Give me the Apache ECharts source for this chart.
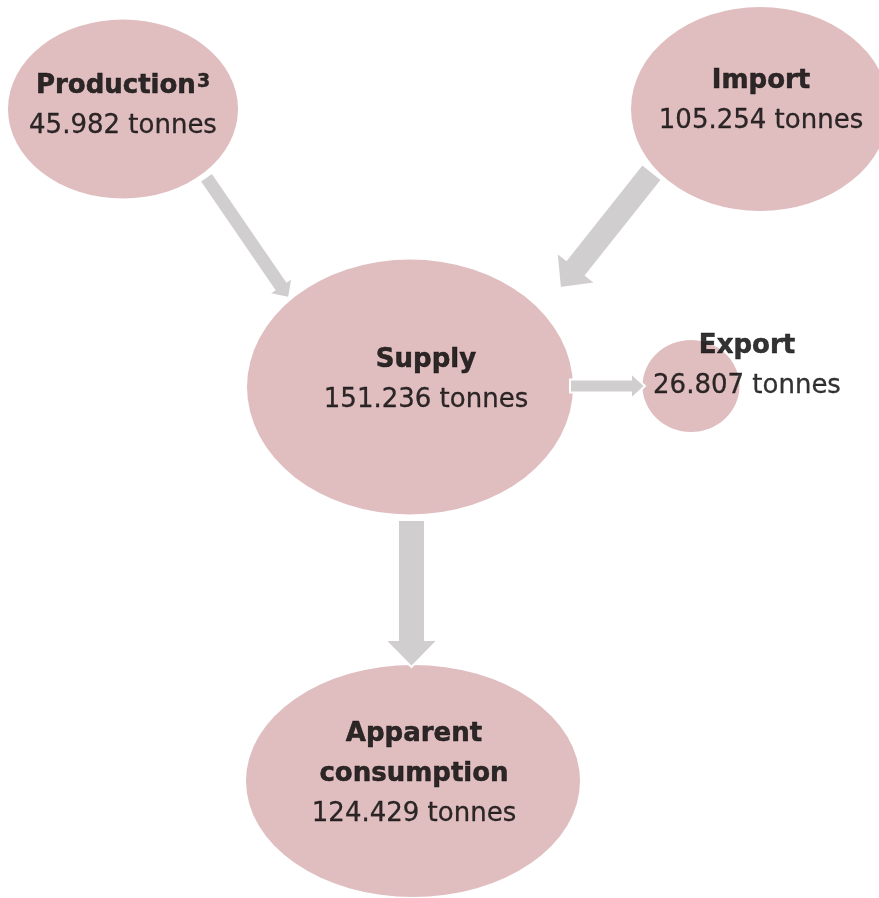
<!DOCTYPE html>
<html>
<head>
<meta charset="utf-8">
<script src="https://cdn.jsdelivr.net/npm/echarts@6/dist/echarts.min.js"></script>
<style>
  html, body { margin: 0; padding: 0; background: #ffffff; }
  #chart { width: 879px; height: 898px; }
</style>
</head>
<body>
<div id="chart"></div>
<script>
// ---- data ----
const nodeNames  = ['Production', 'Import', 'Supply', 'Export', 'Apparent consumption'];
const nodeNotes  = ['3', '', '', '', ''];   // footnote markers (superscript)
const nodeValues = [45982, 105254, 151236, 26807, 124429];
const flowFrom   = ['Production', 'Import', 'Supply', 'Supply'];
const flowTo     = ['Supply', 'Supply', 'Export', 'Apparent consumption'];
const flowValues = [45982, 105254, 26807, 124429];
const unitLabel  = 'tonnes';

// ---- layout (diagram placement, in canvas units) ----
const nodeCenter = [[123, 109], [760, 109], [410, 387], [691, 386], [413, 781]];
const nodeSize   = [[230, 179], [258, 204], [326, 255], [97, 92], [334, 232]];
const labelAt    = [[123, 106], [761, 101], [426, 380], [747, 366], [414, 774]];
const titleLines = [['Production'], ['Import'], ['Supply'], ['Export'], ['Apparent', 'consumption']];
// arrow: start point (back of shaft), tip point, shaft width, head width, head length
const arrowStart = [[206, 177], [652, 172], [570, 386], [411.5, 520]];
const arrowTip   = [[289, 298], [560, 288], [645, 386], [411.5, 667]];
const arrowShaft = [15, 25, 13, 27];
const arrowHead  = [29, 50, 26, 53];
const arrowHeadLen = [15, 26, 14, 27];

function fmt(v) {
  return String(v).replace(/\B(?=(\d{3})+(?!\d))/g, '.');
}

const nodeData = nodeNames.map((n, i) => ({
  name: n,
  value: [nodeCenter[i][0], nodeCenter[i][1], nodeValues[i]],
  symbolSize: nodeSize[i]
}));

const labelData = nodeNames.map((n, i) => {
  const lines = titleLines[i].map((t, k) => {
    let s = '{b|' + t + '}';
    if (k === titleLines[i].length - 1 && nodeNotes[i]) s += '{s|' + nodeNotes[i] + '}';
    return s;
  });
  return {
    name: n,
    value: [labelAt[i][0], labelAt[i][1], nodeValues[i]],
    label: {
      formatter: lines.join('\n') + '\n{n|' + fmt(nodeValues[i]) + ' ' + unitLabel + '}'
    }
  };
});

const flowData = flowValues.map((v, i) => ({
  name: flowFrom[i] + ' → ' + flowTo[i],
  value: [arrowStart[i][0], arrowStart[i][1], arrowTip[i][0], arrowTip[i][1],
          arrowShaft[i], arrowHead[i], arrowHeadLen[i], v]
}));

const chart = echarts.init(document.getElementById('chart'), null, { renderer: 'canvas' });

chart.setOption({
  backgroundColor: '#ffffff',
  animation: false,
  grid: { left: 0, right: 0, top: 0, bottom: 0 },
  xAxis: { type: 'value', min: 0, max: 879, show: false },
  yAxis: { type: 'value', min: 0, max: 898, inverse: true, show: false },
  series: [
    {
      type: 'scatter',
      name: 'nodes',
      z: 1,
      silent: true,
      symbol: 'circle',
      itemStyle: { color: '#e0bec0', opacity: 1 },
      emphasis: { disabled: true },
      data: nodeData
    },
    {
      type: 'custom',
      name: 'flows',
      z: 2,
      silent: true,
      data: flowData,
      renderItem: function (params, api) {
        const s = api.coord([api.value(0), api.value(1)]);
        const t = api.coord([api.value(2), api.value(3)]);
        const sw = api.value(4), hw = api.value(5), hl = api.value(6);
        const dx = t[0] - s[0], dy = t[1] - s[1];
        const len = Math.sqrt(dx * dx + dy * dy);
        const ux = dx / len, uy = dy / len;
        const px = -uy, py = ux;
        const bx = t[0] - ux * hl, by = t[1] - uy * hl;
        const pts = [
          [s[0] + px * sw / 2, s[1] + py * sw / 2],
          [bx + px * sw / 2, by + py * sw / 2],
          [bx + px * hw / 2, by + py * hw / 2],
          [t[0], t[1]],
          [bx - px * hw / 2, by - py * hw / 2],
          [bx - px * sw / 2, by - py * sw / 2],
          [s[0] - px * sw / 2, s[1] - py * sw / 2]
        ];
        return {
          type: 'polygon',
          shape: { points: pts },
          style: { fill: '#d0cecf', stroke: '#ffffff', lineWidth: 2, lineJoin: 'miter' }
        };
      }
    },
    {
      type: 'scatter',
      name: 'labels',
      z: 3,
      silent: true,
      symbol: 'circle',
      symbolSize: 1,
      itemStyle: { color: 'rgba(0,0,0,0)' },
      emphasis: { disabled: true },
      label: {
        show: true,
        position: 'inside',
        align: 'center',
        verticalAlign: 'middle',
        color: '#000000',
        rich: {
          b: { fontFamily: 'DejaVu Sans', fontWeight: 'bold', fontSize: 26, lineHeight: 40, color: '#000000',
               textBorderColor: '#000000', textBorderWidth: 0.5 },
          s: { fontFamily: 'DejaVu Sans', fontWeight: 'bold', fontSize: 19, color: '#000000',
               padding: [0, 0, 7, 1], textBorderColor: '#000000', textBorderWidth: 0.4 },
          n: { fontFamily: 'DejaVu Sans', fontWeight: 'normal', fontSize: 26, lineHeight: 40, color: '#000000',
               textBorderColor: '#000000', textBorderWidth: 0.3 }
        }
      },
      data: labelData
    }
  ]
});
</script>
</body>
</html>
